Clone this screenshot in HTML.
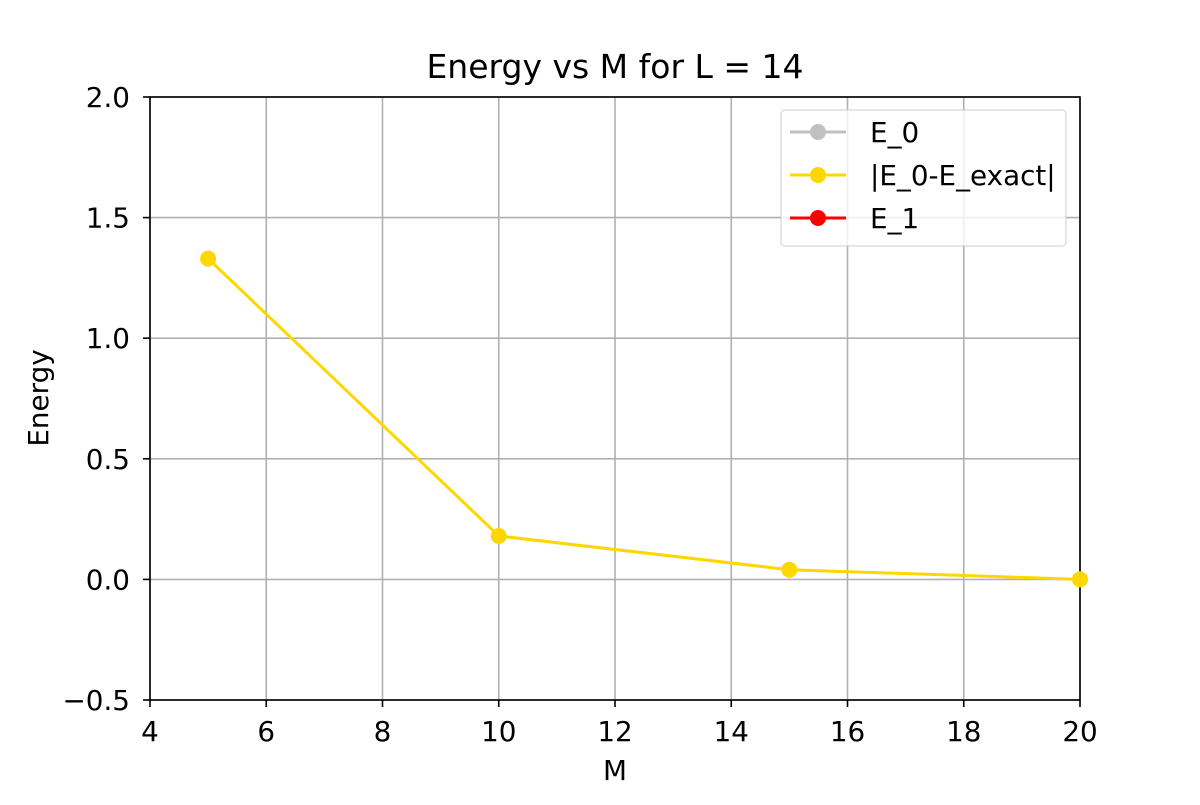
<!DOCTYPE html>
<html><head><meta charset="utf-8"><style>
body{margin:0;background:#fff}
svg text{font-family:"DejaVu Sans","Liberation Sans",sans-serif;fill:#000}
</style></head><body>
<svg id="chart" width="1200" height="800" xmlns="http://www.w3.org/2000/svg">
<rect width="1200" height="800" fill="#fff"/>
<g id="grid"></g>
<g id="axes"></g>
<g id="series"></g>
<text x="615" y="78" font-size="33" text-anchor="middle">Energy vs M for L = 14</text>
<text x="615" y="780" font-size="27.8" text-anchor="middle">M</text>
<text x="48" y="398" font-size="27.8" text-anchor="middle" transform="rotate(-90 48 398)">Energy</text>
<g>
<rect x="781" y="110" width="285" height="136" rx="4" fill="#fff" fill-opacity="0.8" stroke="#ccc"/>
<g><line x1="790" y1="132" x2="846" y2="132" stroke="#c0c0c0" stroke-width="3"/><circle cx="818" cy="132" r="8" fill="#c0c0c0"/><text x="870" y="142" font-size="27.8">E_0</text></g>
<g><line x1="790" y1="175" x2="846" y2="175" stroke="#ffd700" stroke-width="3"/><circle cx="818" cy="175" r="8" fill="#ffd700"/><text x="870" y="185" font-size="27.8">|E_0-E_exact|</text></g>
<g><line x1="790" y1="218" x2="846" y2="218" stroke="#ff0000" stroke-width="3"/><circle cx="818" cy="218" r="8" fill="#ff0000"/><text x="870" y="228" font-size="27.8">E_1</text></g>
</g>
</svg>
<script>
const xTicks=[4,6,8,10,12,14,16,18,20];
const yTicks=[-0.5,0.0,0.5,1.0,1.5,2.0];
const yTickLabels=["\u22120.5","0.0","0.5","1.0","1.5","2.0"];
const mValues=[5,10,15,20];
const errValues=[1.33,0.18,0.04,0.0];
const L=150,R=1080,T=97,B=700;
const xs=v=>L+(v-4)/16*(R-L);
const ys=v=>B-(v+0.5)/2.5*(B-T);
const NS="http://www.w3.org/2000/svg";
function mk(t,a,p){const e=document.createElementNS(NS,t);for(const k in a)e.setAttribute(k,a[k]);p.appendChild(e);return e;}
const grid=document.getElementById('grid'),axes=document.getElementById('axes'),ser=document.getElementById('series');
xTicks.forEach(v=>{const x=xs(v);
const g=mk('line',{x1:x,x2:x,y1:T,y2:B,stroke:'#b0b0b0','stroke-width':1.6},grid);


const tk=mk('line',{x1:x,x2:x,y1:B,y2:B+7,stroke:'#000','stroke-width':1.6},axes);


const t=mk('text',{x:x,y:B+41,'font-size':27.8,'text-anchor':'middle'},axes);t.textContent=v;

});
yTicks.forEach((v,i)=>{const y=ys(v);
const g=mk('line',{x1:L,x2:R,y1:y,y2:y,stroke:'#b0b0b0','stroke-width':1.6},grid);


const tk=mk('line',{x1:L-7,x2:L,y1:y,y2:y,stroke:'#000','stroke-width':1.6},axes);


const t=mk('text',{x:L-20,y:y+10,'font-size':27.8,'text-anchor':'end'},axes);t.textContent=yTickLabels[i];

});
const fr=mk('rect',{x:L,y:T,width:R-L,height:B-T,fill:'none',stroke:'#000','stroke-width':1.6},axes);


const pl=mk('polyline',{points:mValues.map((m,i)=>xs(m)+','+ys(errValues[i])).join(' '),fill:'none',stroke:'#ffd700','stroke-width':3},ser);


mValues.forEach((m,i)=>{const c=mk('circle',{cx:xs(m),cy:ys(errValues[i]),r:8,fill:'#ffd700'},ser);

});
</script>
</body></html>
